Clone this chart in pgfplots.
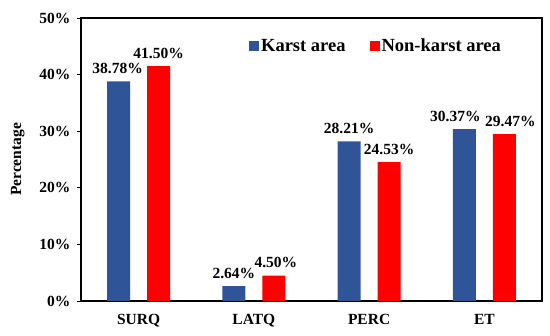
\documentclass[border=0pt]{standalone}
\usepackage{fontspec}
\setmainfont{Liberation Serif}
\usepackage{pgfplots}
\usepackage{pgfplotstable}
\pgfplotsset{compat=1.18}
\definecolor{karst}{RGB}{47,84,151}
\definecolor{nonkarst}{RGB}{255,0,0}
\pgfplotstableread{
x  k      dxk  n      dxn
0  38.78  -1   41.50  0
1  2.64   0    4.50   2
2  28.21  0    24.53  0
3  30.37  -9   29.47  6
}\datatable
\begin{document}
\begin{tikzpicture}
\useasboundingbox (-81pt,-35pt) rectangle (469pt,301pt);
\begin{axis}[
  at={(0pt,0pt)}, anchor=south west,
  scale only axis,
  width=461pt, height=283pt,
  ybar=17pt, bar width=23pt,
  xmin=-0.5, xmax=3.5,
  ymin=0, ymax=50,
  xtick={0,1,2,3},
  xticklabels={SURQ,LATQ,PERC,ET},
  ytick={0,10,20,30,40,50},
  yticklabel={\pgfmathprintnumber{\tick}\%},
  /pgf/number format/assume math mode=true,
  tick label style={font=\fontsize{15.5}{18}\selectfont\bfseries},
  xticklabel style={yshift=-6pt},
  yticklabel style={xshift=-3pt},
  x tick style={draw=none},
  y tick style={black, line width=0.8pt},
  tick align=outside,
  ytick pos=left,
  major tick length=4pt,
  axis line style={black, line width=1.1pt},
  ylabel={Percentage},
  ylabel style={font=\fontsize{15.5}{18}\selectfont\bfseries, yshift=8pt},
  nodes near coords={\pgfmathprintnumber[fixed,fixed zerofill,precision=2]{\pgfplotspointmeta}\%},
  nodes near coords style={font=\fontsize{15.5}{18}\selectfont\bfseries, text=black, yshift=4pt, xshift=\dx pt},
  legend style={at={(0.64,0.90)}, anchor=center, draw=none, fill=none,
    font=\fontsize{18.5}{21}\selectfont\bfseries,
    legend columns=2, /tikz/every even column/.append style={column sep=22pt}},
  legend image code/.code={\fill[#1] (0pt,-5pt) rectangle (10pt,5pt);},
]
\addplot[fill=karst, draw=none, visualization depends on={\thisrow{dxk} \as \dx}] table[x=x, y=k] {\datatable};
\addplot[fill=nonkarst, draw=none, visualization depends on={\thisrow{dxn} \as \dx}] table[x=x, y=n] {\datatable};
\legend{Karst area, Non-karst area}
\end{axis}
\end{tikzpicture}
\end{document}
